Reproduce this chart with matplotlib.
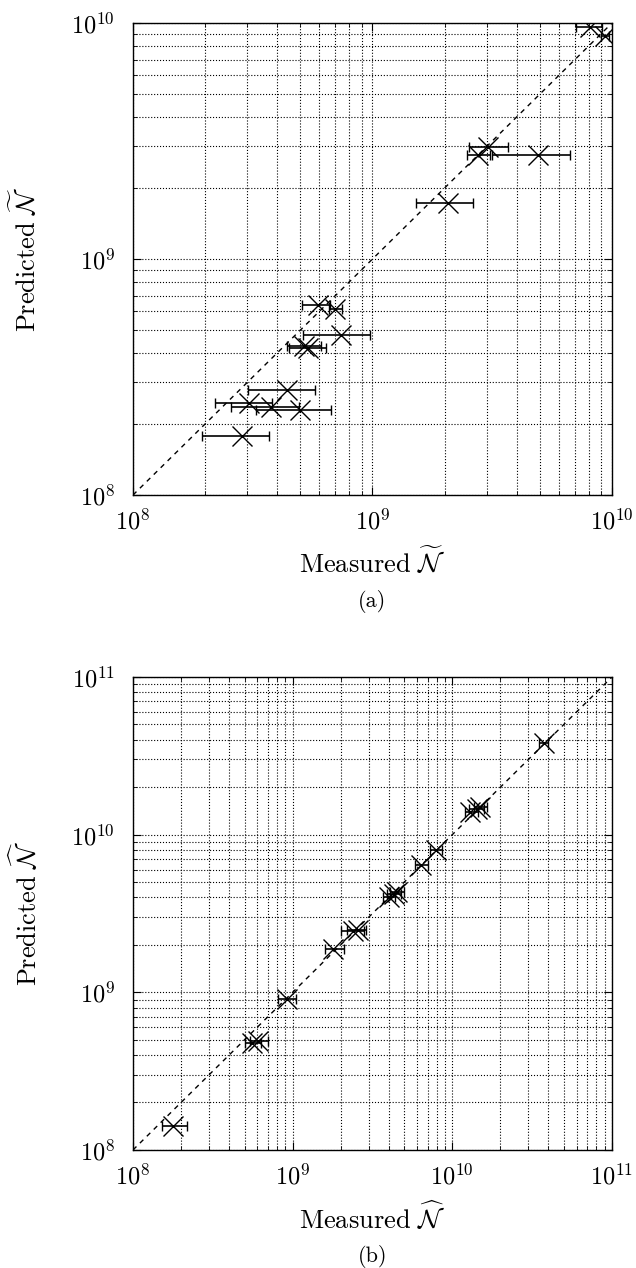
import numpy as np
import matplotlib
matplotlib.use("Agg")
import matplotlib.pyplot as plt

# ---- panel (a): measured vs predicted N-tilde ----
meas_a = [8.1e9, 9.35e9, 3.05e9, 2.77e9, 4.92e9, 2.07e9, 5.94e8, 6.97e8,
          7.36e8, 5.2e8, 5.4e8, 4.41e8, 3.04e8, 3.77e8, 5.0e8, 2.84e8]
pred_a = [9.64e9, 8.8e9, 2.99e9, 2.76e9, 2.76e9, 1.73e9, 6.38e8, 6.12e8,
          4.77e8, 4.3e8, 4.2e8, 2.78e8, 2.46e8, 2.35e8, 2.29e8, 1.78e8]
lo_a = [7.1e9, 9.0e9, 2.53e9, 2.47e9, 3.15e9, 1.52e9, 5.09e8, 6.58e8,
        5.14e8, 4.4e8, 4.5e8, 3.03e8, 2.2e8, 2.56e8, 3.27e8, 1.94e8]
hi_a = [9.1e9, 9.7e9, 3.69e9, 3.09e9, 6.68e9, 2.62e9, 6.65e8, 7.48e8,
        9.8e8, 6.1e8, 6.4e8, 5.75e8, 3.8e8, 4.92e8, 6.72e8, 3.7e8]

# ---- panel (b): measured vs predicted N-hat ----
meas_b = [7.9e9, 6.37e9, 3.99e9, 4.3e9, 4.5e9, 2.4e9, 2.55e9, 1.8e9,
          9.2e8, 5.6e8, 6.1e8, 1.79e8, 3.73e10, 1.3e10, 1.42e10, 1.5e10]
pred_b = [7.98e9, 6.41e9, 4.05e9, 4.2e9, 4.35e9, 2.45e9, 2.5e9, 1.87e9,
          9.03e8, 4.8e8, 4.9e8, 1.42e8, 3.79e10, 1.4e10, 1.45e10, 1.5e10]
lo_b = [7.2e9, 5.8e9, 3.7e9, 3.9e9, 4.1e9, 2.0e9, 2.2e9, 1.6e9,
        8.1e8, 5.0e8, 5.4e8, 1.51e8, 3.5e10, 1.2e10, 1.28e10, 1.36e10]
hi_b = [8.6e9, 7.0e9, 4.4e9, 4.8e9, 5.0e9, 2.8e9, 2.9e9, 2.1e9,
        1.05e9, 6.3e8, 7.0e8, 2.19e8, 4.0e10, 1.45e10, 1.58e10, 1.65e10]

plt.rcParams.update({
    "mathtext.fontset": "cm",
    "font.family": "serif",
    "font.serif": ["cmr10", "DejaVu Serif"],
    "axes.formatter.use_mathtext": True,
    "font.size": 15,
})

fig = plt.figure(figsize=(6.36, 12.68), dpi=100)
ax_a = fig.add_axes([0.2091, 0.6096, 0.7531, 0.3722])
ax_b = fig.add_axes([0.2091, 0.0931, 0.7531, 0.3730])


def draw_panel(ax, meas, pred, lo, hi, lim, sym, tag):
    meas = np.array(meas)
    xerr = [meas - np.array(lo), np.array(hi) - meas]
    ax.plot(lim, lim, ls=(0, (3.5, 3.5)), color="black", lw=1.0, zorder=2)
    ax.errorbar(meas, pred, xerr=xerr, fmt="x", color="black", ms=14,
                mew=1.0, elinewidth=1.2, capsize=3.5, capthick=1.2, zorder=3)
    ax.set_xscale("log")
    ax.set_yscale("log")
    ax.set_xlim(lim)
    ax.set_ylim(lim)
    ax.grid(True, which="both", ls=":", color="black", lw=0.8)
    ax.tick_params(which="both", direction="in", top=True, right=True)
    ax.tick_params(which="major", length=6, labelsize=17.5)
    ax.tick_params(axis="x", which="major", pad=10)
    ax.tick_params(axis="y", which="major", pad=13)
    ax.tick_params(which="minor", length=3)
    for s in ax.spines.values():
        s.set_linewidth(1.0)
    ax.set_xlabel(r"$\mathrm{Measured}\ %s{\mathcal{N}}$" % sym, fontsize=19,
                  va="center")
    ax.set_ylabel(r"$\mathrm{Predicted}\ %s{\mathcal{N}}$" % sym, fontsize=19,
                  va="center")
    ax.xaxis.set_label_coords(0.5, -0.141)
    ax.yaxis.set_label_coords(-0.226, 0.5)
    ax.text(0.5, -0.225, tag, transform=ax.transAxes, ha="center", va="center",
            fontsize=16)


draw_panel(ax_a, meas_a, pred_a, lo_a, hi_a, [1e8, 1e10], r"\widetilde", "(a)")
draw_panel(ax_b, meas_b, pred_b, lo_b, hi_b, [1e8, 1e11], r"\widehat", "(b)")

fig.savefig("out.png", dpi=100)
